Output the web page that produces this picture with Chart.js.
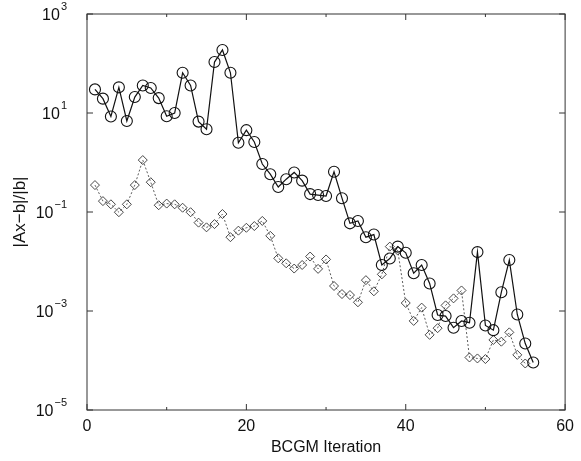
<!DOCTYPE html>
<html>
<head>
<meta charset="utf-8">
<script src="https://cdn.jsdelivr.net/npm/chart.js@4"></script>
<style>
  html, body { margin: 0; padding: 0; background: #fff; }
  #wrap { width: 581px; height: 461px; }
</style>
</head>
<body>
<div id="wrap"><canvas id="chart" width="581" height="461"></canvas></div>
<script>
// BCGM iterations and residual norms
const iterCircles = [1, 2, 3, 4, 5, 6, 7, 8, 9, 10, 11, 12, 13, 14, 15, 16, 17, 18, 19, 20,
    21, 22, 23, 24, 25, 26, 27, 28, 29, 30, 31, 32, 33, 34, 35, 36, 37, 38, 39, 40,
    41, 42, 43, 44, 45, 46, 47, 48, 49, 50, 51, 52, 53, 54, 55, 56];
const residCircles = [30, 19.5, 8.5, 33, 6.9, 21, 36, 32, 20, 8.6,
    10, 65, 36, 6.7, 4.7, 107, 188, 65, 2.5, 4.5,
    2.6, 0.93, 0.58, 0.32, 0.46, 0.63, 0.43, 0.23, 0.22, 0.21,
    0.65, 0.19, 0.059, 0.066, 0.031, 0.035, 0.0085, 0.0115, 0.02, 0.015,
    0.0058, 0.0085, 0.0036, 0.00083, 0.00079, 0.00046, 0.00063, 0.00058, 0.0155, 0.00051,
    0.00041, 0.0024, 0.0107, 0.00085, 0.00022, 0.000091];

const iterDiamonds = [1, 2, 3, 4, 5, 6, 7, 8, 9, 10, 11, 12, 13, 14, 15, 16, 17, 18, 19, 20,
    21, 22, 23, 24, 25, 26, 27, 28, 29, 30, 31, 32, 33, 34, 35, 36, 37, 38, 39, 40,
    41, 42, 43, 44, 45, 46, 47, 48, 49, 50, 51, 52, 53, 54, 55];
const residDiamonds = [0.35, 0.166, 0.143, 0.099, 0.143, 0.35, 1.12, 0.40, 0.137, 0.148,
    0.143, 0.122, 0.099, 0.061, 0.049, 0.057, 0.091, 0.031, 0.042, 0.048,
    0.052, 0.066, 0.033, 0.0116, 0.0092, 0.0072, 0.0085, 0.0126, 0.0071, 0.011,
    0.0032, 0.0022, 0.0021, 0.0015, 0.0042, 0.0025, 0.0055, 0.020, 0.0166, 0.00145,
    0.00063, 0.00117, 0.00033, 0.00045, 0.0013, 0.0018, 0.0026, 0.000115, 0.00011, 0.000107,
    0.00026, 0.00024, 0.00037, 0.00013, 0.000087];

// axis ticks
const xTicks = [0, 20, 40, 60];
const xMinorTicks = [10, 30, 50];
const yTicks = [1e-5, 1e-3, 1e-1, 1e1, 1e3];
const yTickBase = '10';
const yTickExponents = ['\u22125', '\u22123', '\u22121', '1', '3'];

function toPoints(xs, ys) {
    return xs.map((x, i) => ({ x: x, y: ys[i] }));
}

// frame, inward ticks on all four sides, and the 10^n labels
const framePlugin = {
    id: 'frame',
    afterDraw(chart) {
        const { ctx, chartArea: a, scales } = chart;
        ctx.save();
        ctx.strokeStyle = '#333';
        ctx.lineWidth = 1;
        ctx.strokeRect(a.left, a.top, a.right - a.left, a.bottom - a.top);
        ctx.beginPath();
        xTicks.concat(xMinorTicks).forEach(v => {
            const px = scales.x.getPixelForValue(v);
            const len = xTicks.includes(v) ? 6 : 3;
            ctx.moveTo(px, a.bottom); ctx.lineTo(px, a.bottom - len);
            ctx.moveTo(px, a.top); ctx.lineTo(px, a.top + len);
        });
        yTicks.forEach(v => {
            const py = scales.y.getPixelForValue(v);
            ctx.moveTo(a.left, py); ctx.lineTo(a.left + 6, py);
            ctx.moveTo(a.right, py); ctx.lineTo(a.right - 6, py);
        });
        ctx.stroke();

        // y tick labels with a raised exponent
        ctx.fillStyle = '#111';
        ctx.textBaseline = 'middle';
        yTicks.forEach((v, i) => {
            const py = scales.y.getPixelForValue(v);
            const exp = yTickExponents[i];
            ctx.font = '11px "Liberation Sans"';
            const expW = ctx.measureText(exp).width;
            const right = 67;
            ctx.textAlign = 'left';
            ctx.fillText(exp, right - expW, py - 7);
            ctx.font = '16px "Liberation Sans"';
            ctx.textAlign = 'right';
            ctx.fillText(yTickBase, right - expW - 1, py + 2);
        });
        ctx.restore();
    }
};

const ctx = document.getElementById('chart').getContext('2d');
new Chart(ctx, {
    type: 'line',
    data: {
        datasets: [{
            label: 'circles',
            data: toPoints(iterCircles, residCircles),
            borderColor: '#111',
            borderWidth: 1.2,
            pointStyle: 'circle',
            pointRadius: 5.5,
            pointBorderWidth: 1.1,
            pointBorderColor: '#111',
            pointBackgroundColor: 'rgba(0,0,0,0)',
            tension: 0
        }, {
            label: 'diamonds',
            data: toPoints(iterDiamonds, residDiamonds),
            borderColor: '#333',
            borderWidth: 0.8,
            borderDash: [2, 2],
            pointStyle: 'rectRot',
            pointRadius: 4.5,
            pointBorderWidth: 0.9,
            pointBorderColor: '#333',
            pointBackgroundColor: 'rgba(0,0,0,0)',
            tension: 0
        }]
    },
    options: {
        responsive: false,
        animation: false,
        layout: { padding: { top: 14, right: 9, left: 0, bottom: 0 } },
        plugins: {
            legend: { display: false },
            tooltip: { enabled: false }
        },
        scales: {
            x: {
                type: 'linear',
                min: 0,
                max: 60,
                afterBuildTicks: scale => { scale.ticks = xTicks.map(v => ({ value: v })); },
                afterFit: scale => { scale.height = 51; },
                grid: { display: false, drawTicks: false },
                border: { display: false },
                ticks: {
                    padding: 7,
                    color: '#111',
                    font: { family: 'Liberation Sans', size: 16 }
                },
                title: {
                    display: true,
                    text: 'BCGM Iteration',
                    color: '#111',
                    font: { family: 'Liberation Sans', size: 16 },
                    padding: { top: 0, bottom: 4 }
                }
            },
            y: {
                type: 'logarithmic',
                min: 1e-5,
                max: 1e3,
                afterBuildTicks: scale => { scale.ticks = yTicks.map(v => ({ value: v })); },
                afterFit: scale => { scale.width = 87; },
                grid: { display: false, drawTicks: false },
                border: { display: false },
                ticks: { display: false },
                title: {
                    display: true,
                    text: '|Ax\u2212b|/|b|',
                    color: '#111',
                    font: { family: 'Liberation Sans', size: 17 },
                    padding: { top: 10, bottom: 0 }
                }
            }
        }
    },
    plugins: [framePlugin]
});
</script>
</body>
</html>
